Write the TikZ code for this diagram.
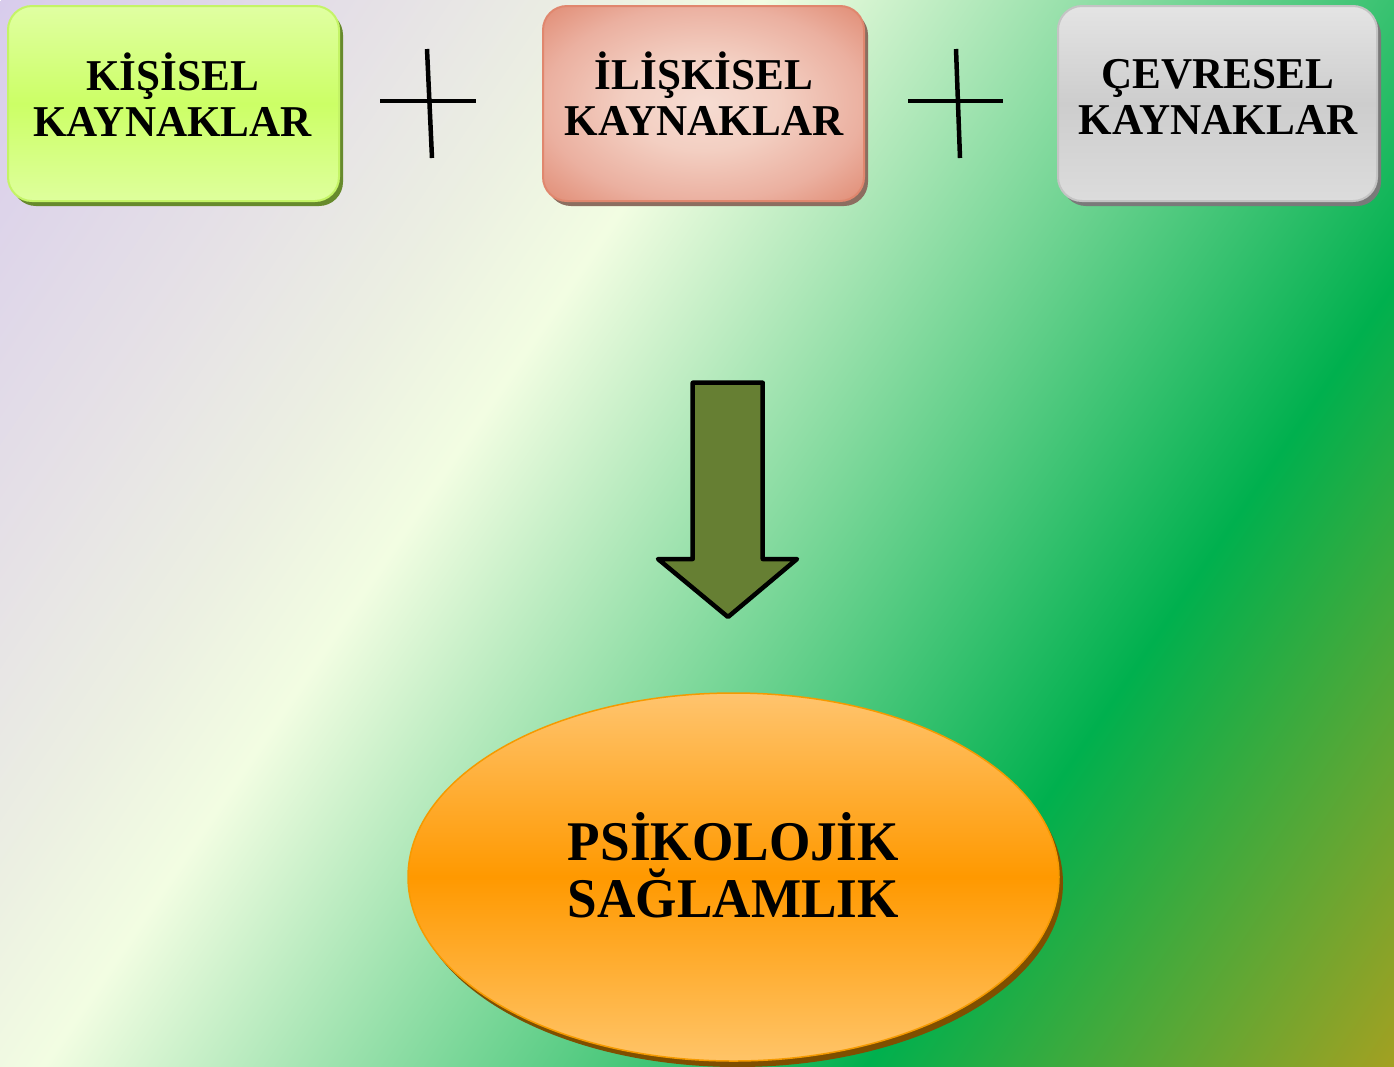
\documentclass[tikz,border=0pt]{standalone}
\usepackage{fontspec}
\setmainfont{Liberation Serif}
\newfontfamily\boxfont[FakeStretch=0.98]{Liberation Serif}
\newfontfamily\ellfont[FakeStretch=0.95]{Liberation Serif}
\usetikzlibrary{shapes.geometric,shadows}

% background colours
\definecolor{bgA}{HTML}{D8CCEC}
\definecolor{bgB}{HTML}{E6E2E6}
\definecolor{bgC}{HTML}{ECF0E2}
\definecolor{bgD}{HTML}{F2FDE2}
\definecolor{bgE}{HTML}{00B04E}
\definecolor{bgF}{HTML}{A8A020}
% box 1
\definecolor{boneTop}{HTML}{E0FFA2}
\definecolor{boneMid}{HTML}{CCFF66}
\definecolor{boneBot}{HTML}{DEFF9C}
\definecolor{boneLine}{HTML}{C4F466}
\definecolor{boneShad}{HTML}{678A2C}
% box 2
\definecolor{salA}{HTML}{F6DCD2}
\definecolor{salB}{HTML}{F3CFC2}
\definecolor{salC}{HTML}{EBB0A0}
\definecolor{salD}{HTML}{E08A72}
\definecolor{btwoLine}{HTML}{E0876E}
\definecolor{btwoShad}{HTML}{8C6E60}
% box 3
\definecolor{bthrTop}{HTML}{E4E4E4}
\definecolor{bthrMid}{HTML}{CDCDCD}
\definecolor{bthrBot}{HTML}{DCDCDC}
\definecolor{bthrLine}{HTML}{C4C4C4}
\definecolor{bthrShad}{HTML}{7A7A7A}
% ellipse
\definecolor{elTop}{HTML}{FFC46E}
\definecolor{elMid}{HTML}{FF9900}
\definecolor{elBot}{HTML}{FFC468}
\definecolor{elLine}{HTML}{F59A00}
\definecolor{elShad}{HTML}{7F4F00}
% arrow
\definecolor{arrFill}{HTML}{667F33}

\pgfdeclarehorizontalshading{bgshade}{2000bp}{color(0bp)=(bgA); color(330bp)=(bgB); color(500bp)=(bgC); color(630bp)=(bgD); color(1310bp)=(bgE); color(1760bp)=(bgF)}
\pgfdeclareradialshading{salmonrad}{\pgfpoint{0bp}{0bp}}{color(0bp)=(salA); color(12bp)=(salB); color(25bp)=(salC); color(36bp)=(salD); color(50bp)=(salD)}

\tikzset{
  rbox/.style={rectangle, rounded corners=24pt, minimum height=195pt, inner sep=0pt, line width=2pt},
  boxone/.style={rbox, minimum width=331pt, draw=boneLine, top color=boneTop, bottom color=boneBot, middle color=boneMid,
    drop shadow={shadow xshift=4pt, shadow yshift=-5pt, fill=boneShad, opacity=1}},
  boxtwo/.style={rbox, minimum width=321pt, draw=btwoLine, shade, shading=salmonrad,
    drop shadow={shadow xshift=4pt, shadow yshift=-5pt, fill=btwoShad, opacity=1}},
  boxthree/.style={rbox, minimum width=319pt, draw=bthrLine, top color=bthrTop, bottom color=bthrBot, middle color=bthrMid,
    drop shadow={shadow xshift=4pt, shadow yshift=-5pt, fill=bthrShad, opacity=1}},
  boxtext/.style={align=center, inner sep=0pt, font=\boxfont\bfseries\fontsize{44}{46}\selectfont},
  ovalnode/.style={ellipse, minimum width=651pt, minimum height=368pt, inner sep=0pt, draw=elLine, line width=1.5pt,
    top color=elTop, bottom color=elBot, middle color=elMid,
    drop shadow={shadow xshift=4pt, shadow yshift=-6pt, fill=elShad, opacity=1}},
  ovaltext/.style={align=center, inner sep=0pt, font=\ellfont\bfseries\fontsize{56}{57}\selectfont},
  plusline/.style={line width=4.5pt, black},
  blockarrow/.style={line width=4.5pt, draw=black, fill=arrFill, line join=round}
}

\begin{document}
\begin{tikzpicture}[x=1pt, y=-1pt]
\useasboundingbox (0,0) rectangle (1394,1066);
% background
\begin{scope}
  \clip (0,0) rectangle (1394,1066);
  \node[inner sep=0pt, outer sep=0pt, anchor=west, rotate=-34] (bg) at (0,0) {\pgfuseshading{bgshade}};
\end{scope}

% boxes
\node[boxone]   (b1) at (173.5,103.5) {};
\node[boxtwo]   (b2) at (703.5,103.5) {};
\node[boxthree] (b3) at (1217.5,103.5) {};

\node[boxtext, anchor=base] (t1) at (172.5,136.5) {KİŞİSEL\\KAYNAKLAR};
\node[boxtext, anchor=base] (t2) at (704,135.5) {İLİŞKİSEL\\KAYNAKLAR};
\node[boxtext, anchor=base] (t3) at (1218,134.5) {ÇEVRESEL\\KAYNAKLAR};

% plus signs
\draw[plusline] (427,49) -- (432,158);
\draw[plusline] (380,101) -- (476,101);
\draw[plusline] (956,49) -- (960,158);
\draw[plusline] (908,101) -- (1003,101);

% block arrow
\draw[blockarrow] (692.7,382.7) -- (762.7,382.7) -- (762.7,559) -- (797,559) -- (728,617) -- (658,559) -- (692.7,559) -- cycle;

% ellipse
\node[ovalnode] (el) at (733.5,877) {};
\node[ovaltext, anchor=base] (te) at (733.5,917) {PSİKOLOJİK\\SAĞLAMLIK};
\end{tikzpicture}
\end{document}
